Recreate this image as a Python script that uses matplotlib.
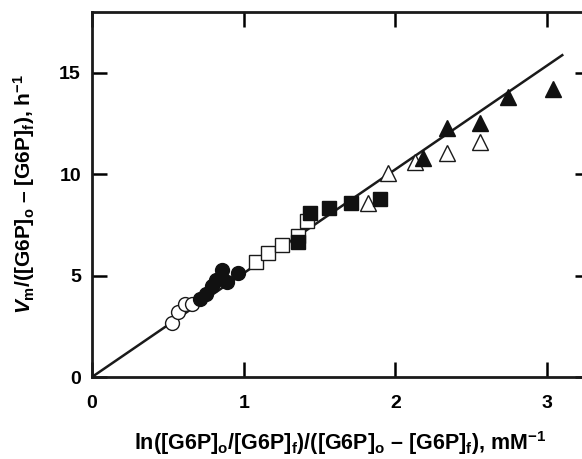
import numpy as np
import matplotlib
matplotlib.use('Agg')
import matplotlib.pyplot as plt

# open circles
oc_x = [0.53, 0.57, 0.61, 0.66]
oc_y = [2.65, 3.2, 3.6, 3.6]
# filled circles
fc_x = [0.71, 0.75, 0.79, 0.82, 0.86, 0.89, 0.96]
fc_y = [3.85, 4.1, 4.5, 4.8, 5.3, 4.7, 5.15]
# open squares
os_x = [1.08, 1.16, 1.25, 1.36, 1.42]
os_y = [5.65, 6.1, 6.5, 6.95, 7.7]
# filled squares
fs_x = [1.36, 1.44, 1.56, 1.71, 1.90]
fs_y = [6.65, 8.1, 8.35, 8.6, 8.8]
# open triangles
ot_x = [1.82, 1.95, 2.13, 2.34, 2.56]
ot_y = [8.6, 10.05, 10.6, 11.05, 11.6]
# filled triangles
ft_x = [2.18, 2.34, 2.56, 2.74, 3.04]
ft_y = [10.8, 12.3, 12.55, 13.8, 14.2]
# fitted line
line_x = [0, 3.1]
slope = 5.12

plt.rcParams['font.family'] = ['Liberation Sans', 'DejaVu Sans']
plt.rcParams['font.weight'] = 'bold'
plt.rcParams['mathtext.fontset'] = 'custom'
plt.rcParams['mathtext.rm'] = 'Liberation Sans:bold'
plt.rcParams['mathtext.bf'] = 'Liberation Sans:bold'
plt.rcParams['mathtext.it'] = 'Liberation Sans:italic:bold'

fig = plt.figure(figsize=(5.82, 4.59), dpi=100)
ax = fig.add_axes([92 / 582, 82 / 459, 3.28 * 151.7 / 582, 365 / 459])

lx = np.array(line_x)
ax.plot(lx, slope * lx, color='#1a1a1a', lw=1.8, zorder=1)

ax.plot(oc_x, oc_y, 'o', ms=10, mfc='white', mec='#1a1a1a', mew=1.0, zorder=3)
ax.plot(fc_x, fc_y, 'o', ms=10, mfc='#111111', mec='#111111', mew=1.0, zorder=3)
ax.plot(os_x, os_y, 's', ms=10.5, mfc='white', mec='#1a1a1a', mew=1.0, zorder=2)
ax.plot(fs_x, fs_y, 's', ms=10.5, mfc='#111111', mec='#111111', mew=1.0, zorder=3)
ax.plot(ot_x, ot_y, '^', ms=11.5, mfc='white', mec='#1a1a1a', mew=1.0, zorder=2)
ax.plot(ft_x, ft_y, '^', ms=11.5, mfc='#111111', mec='#111111', mew=1.0, zorder=3)

ax.set_xlim(0, 3.28)
ax.set_ylim(0, 18)
ax.set_xticks([0, 1, 2, 3])
ax.set_yticks([0, 5, 10, 15])
ax.tick_params(direction='in', length=11, width=1.8, labelsize=14,
               top=True, right=True)
ax.tick_params(axis='x', pad=13)
ax.tick_params(axis='y', pad=8)
for s in ax.spines.values():
    s.set_linewidth(2.0)
    s.set_color('#1a1a1a')

ax.set_xlabel(r'ln([G6P]$_{\rm o}$/[G6P]$_{\rm f}$)/([G6P]$_{\rm o}$ – [G6P]$_{\rm f}$), mM$^{-1}$',
              fontsize=15.5, fontweight='bold', labelpad=12)
ax.set_ylabel(r'$\it{V}_{\rm m}$/([G6P]$_{\rm o}$ – [G6P]$_{\rm f}$), h$^{-1}$',
              fontsize=15, fontweight='bold', labelpad=16)

fig.savefig('out.png', dpi=100)
